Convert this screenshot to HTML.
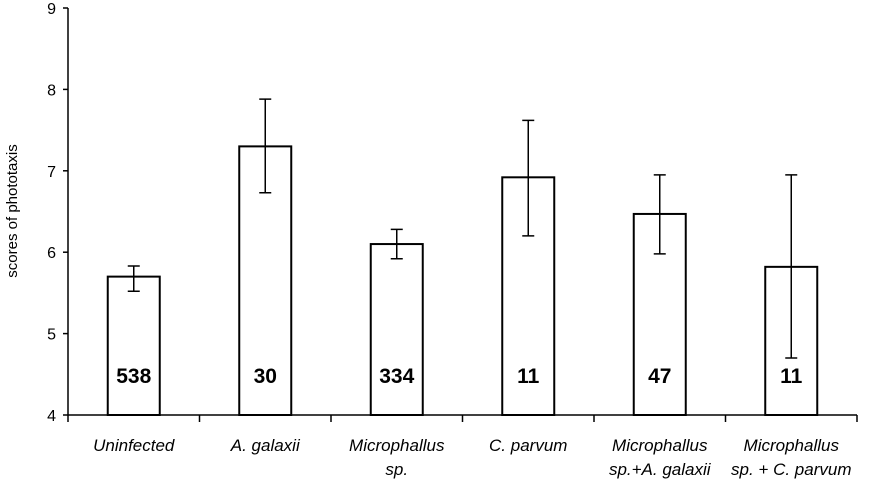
<!DOCTYPE html>
<html><head><meta charset="utf-8"><style>
body{margin:0;background:#fff}
svg{font-family:"Liberation Sans",Arial,sans-serif}
</style></head><body>
<svg id="chart" width="869" height="481"></svg>
<script>
const categories=[["Uninfected"],["A. galaxii"],["Microphallus","sp."],["C. parvum"],["Microphallus","sp.+A. galaxii"],["Microphallus","sp. + C. parvum"]];
const means=[5.7,7.3,6.1,6.92,6.47,5.82];
const errLow=[5.52,6.73,5.92,6.2,5.98,4.7];
const errHigh=[5.83,7.88,6.28,7.62,6.95,6.95];
const counts=["538","30","334","11","47","11"];
const yTicks=[4,5,6,7,8,9];
const svg=document.getElementById('chart');
const NS='http://www.w3.org/2000/svg';
const x0=68,x1=857,yTop=8,yBot=415;
const y=v=>yBot-(v-4)/5*(yBot-yTop);
const cw=(x1-x0)/categories.length;
const xc=i=>x0+cw*(i+0.5);
function el(t,a,txt){const e=document.createElementNS(NS,t);for(const k in a)e.setAttribute(k,a[k]);if(txt!==undefined)e.textContent=txt;svg.appendChild(e);return e;}
let e;
e=el('line',{x1:x0,y1:yTop,x2:x0,y2:yBot,stroke:'#000','stroke-width':1.5});


e=el('line',{x1:x0,y1:yBot,x2:x1,y2:yBot,stroke:'#000','stroke-width':1.5});


yTicks.forEach(t=>{
 e=el('line',{x1:x0-5,y1:y(t),x2:x0,y2:y(t),stroke:'#000','stroke-width':1.5});
 
 
 e=el('text',{x:x0-12,y:y(t)+6,'text-anchor':'end','font-size':16},t);
 
 
});
for(let i=0;i<=categories.length;i++){
 e=el('line',{x1:x0+cw*i,y1:yBot,x2:x0+cw*i,y2:yBot+7,stroke:'#000','stroke-width':1.5});
 
 
}
e=el('text',{x:17,y:211,'text-anchor':'middle','font-size':15,transform:'rotate(-90 17 211)'},'scores of phototaxis');


const bw=52;
categories.forEach((c,i)=>{
 const cx=xc(i);
 e=el('rect',{x:cx-bw/2,y:y(means[i]),width:bw,height:yBot-y(means[i]),fill:'#fff',stroke:'#000','stroke-width':2});
 
 
 e=el('path',{d:`M${cx},${y(errLow[i])}V${y(errHigh[i])}M${cx-6},${y(errLow[i])}H${cx+6}M${cx-6},${y(errHigh[i])}H${cx+6}`,stroke:'#000','stroke-width':1.5,fill:'none'});
 
 
 e=el('text',{x:cx,y:383,'text-anchor':'middle','font-size':21,'font-weight':'bold'},counts[i]);
 
 
 c.forEach((line,j)=>{
  e=el('text',{x:cx,y:451+j*24,'text-anchor':'middle','font-size':17,'font-style':'italic'},line);
  
  
 });
});
</script>
</body></html>
